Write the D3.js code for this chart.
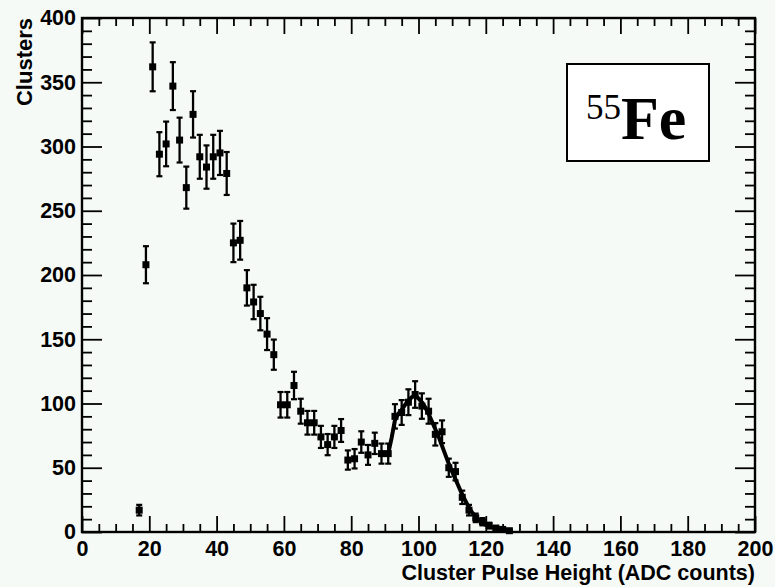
<!DOCTYPE html>
<html><head><meta charset="utf-8">
<script src="https://cdn.jsdelivr.net/npm/d3@7"></script>
<style>
html,body{margin:0;padding:0;background:#f6faf7;}
svg{display:block;}
text{font-family:"Liberation Sans",Arial,sans-serif;font-weight:bold;fill:#000;}
</style></head>
<body>
<svg id="c" width="775" height="587"></svg>
<script>
// ---- data ----
const binCenters = [17,19,21,23,25,27,29,31,33,35,37,39,41,43,45,47,49,51,53,55,57,59,61,63,65,67,69,71,73,75,77,79,81,83,85,87,89,91,93,95,97,99,101,103,105,107,109,111,113,115,117,119,121,123,125,127];
const counts     = [17,208,362,294,302,347,305,268,325,292,284,292,295,279,225,227,190,179,170,154,138,99,99,114,94,85,85,74,68,74,79,56,57,70,60,69,61,61,90,93,101,107,98,94,76,78,50,47,27,17,11,8,5,3,2,1];
const curveX = [90,91,92,93,94,95,96,97,98,99,100,101,102,103,104,105,106,107,108,109,110,111,112,113,114,115,116,117,118,119,120,121,122,123,124,125,126,127,128];
const curveY = [60,61,73,87,92,95,99,102,105,106,104,101,97,92,86,80,74,67,60,53,47,41,35,29,24,19,15,12,9,7,5.5,4.5,3.5,2.5,2,1.5,1,0.7,0.5];
const xMajorTicks = [0,20,40,60,80,100,120,140,160,180,200];
const yMajorTicks = [0,50,100,150,200,250,300,350,400];
const xTitle = "Cluster Pulse Height (ADC counts)";
const yTitle = "Clusters";

const svg = d3.select("#c");
const L=82, R=755, T=18, B=532;
const x = d3.scaleLinear().domain([0,200]).range([L,R]);
const y = d3.scaleLinear().domain([0,400]).range([B,T]);

const xMinor = d3.range(0,201,5).filter(v=>v%20!==0);
const yMinor = d3.range(0,401,10).filter(v=>v%50!==0);

function styleAxis(g){
  g.select(".domain").remove();
  g.selectAll("line").attr("stroke","#000").attr("stroke-width",1.8);
  g.selectAll("text").style("font-size","21.5px").style("font-family","'Liberation Sans',Arial,sans-serif").style("font-weight","bold");
}
// bottom
svg.append("g").attr("transform",`translate(0,${B})`)
  .call(d3.axisBottom(x).tickValues(xMajorTicks).tickSize(-16).tickPadding(9).tickFormat(d3.format("d")))
  .call(styleAxis);
svg.append("g").attr("transform",`translate(0,${B})`)
  .call(d3.axisBottom(x).tickValues(xMinor).tickSize(-8).tickFormat(""))
  .call(styleAxis);
// top
svg.append("g").attr("transform",`translate(0,${T})`)
  .call(d3.axisTop(x).tickValues(xMajorTicks).tickSize(-16).tickFormat(""))
  .call(styleAxis);
svg.append("g").attr("transform",`translate(0,${T})`)
  .call(d3.axisTop(x).tickValues(xMinor).tickSize(-8).tickFormat(""))
  .call(styleAxis);
// left
svg.append("g").attr("transform",`translate(${L},0)`)
  .call(d3.axisLeft(y).tickValues(yMajorTicks).tickSize(-20).tickPadding(6).tickFormat(d3.format("d")))
  .call(styleAxis);
svg.append("g").attr("transform",`translate(${L},0)`)
  .call(d3.axisLeft(y).tickValues(yMinor).tickSize(-10).tickFormat(""))
  .call(styleAxis);
// right
svg.append("g").attr("transform",`translate(${R},0)`)
  .call(d3.axisRight(y).tickValues(yMajorTicks).tickSize(-20).tickFormat(""))
  .call(styleAxis);
svg.append("g").attr("transform",`translate(${R},0)`)
  .call(d3.axisRight(y).tickValues(yMinor).tickSize(-10).tickFormat(""))
  .call(styleAxis);

// frame
svg.append("rect").attr("x",L).attr("y",T).attr("width",R-L).attr("height",B-T)
  .attr("fill","none").attr("stroke","#000").attr("stroke-width",2.4);

// curve
const line = d3.line().x((d,i)=>x(curveX[i])).y(d=>y(d)).curve(d3.curveLinear);
svg.append("path").datum(curveY).attr("d",line).attr("fill","none")
  .attr("stroke","#000").attr("stroke-width",4).attr("stroke-linejoin","round");

// error bars + markers
const pts = svg.append("g");
binCenters.forEach((c,i)=>{
  const v = counts[i], e = Math.sqrt(v);
  const cx = x(c);
  const g = pts.append("g");
  g.append("line").attr("x1",cx).attr("x2",cx).attr("y1",y(v+e)).attr("y2",y(Math.max(0,v-e)))
    .attr("stroke","#000").attr("stroke-width",2.3);
  [v+e, Math.max(0,v-e)].forEach(w=>{
    g.append("line").attr("x1",cx-3).attr("x2",cx+3).attr("y1",y(w)).attr("y2",y(w))
      .attr("stroke","#000").attr("stroke-width",2.2);
  });
  g.append("rect").attr("x",cx-3.5).attr("y",y(v)-3.5).attr("width",7).attr("height",7).attr("fill","#000");
});

// axis titles
svg.append("text").attr("x",R).attr("y",580).attr("text-anchor","end")
  .style("font-size","21.5px").text(xTitle);
svg.append("text").attr("transform",`translate(32,${T}) rotate(-90)`).attr("text-anchor","end")
  .style("font-size","22px").text(yTitle);

// label box
svg.append("rect").attr("x",567).attr("y",64).attr("width",142).attr("height",97)
  .attr("fill","#fff").attr("stroke","#000").attr("stroke-width",2);
const lab = svg.append("text").attr("x",586).attr("y",139)
  .style("font-family","'Liberation Serif','Times New Roman',serif");
lab.append("tspan").attr("dy",-20).style("font-size","35px").style("font-weight","normal").text("55");
lab.append("tspan").attr("dy",20).style("font-size","62px").style("font-weight","bold").text("Fe");
</script>
</body></html>
